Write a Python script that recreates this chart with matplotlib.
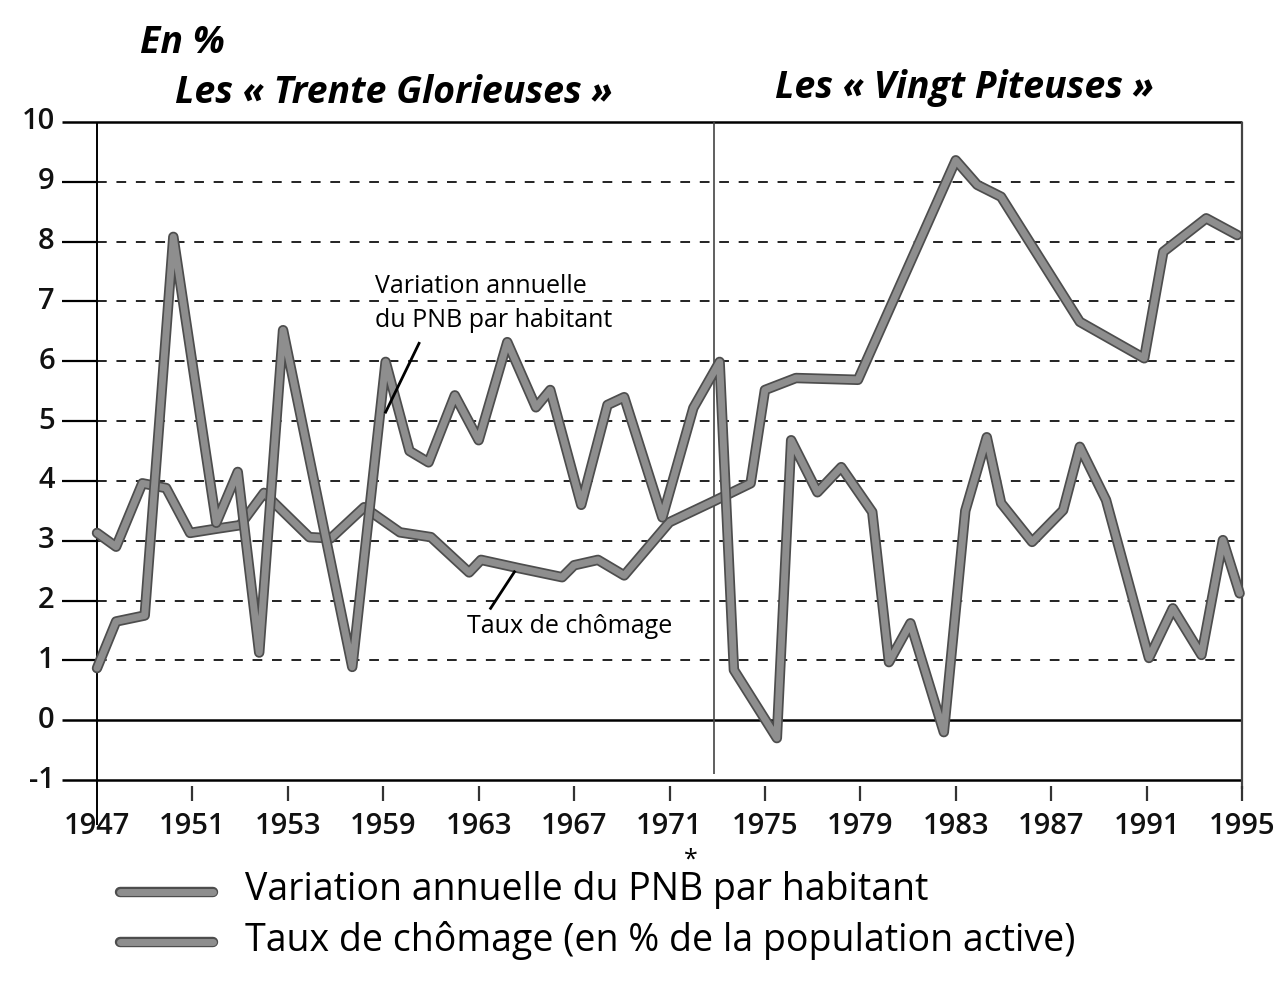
import matplotlib
matplotlib.use('Agg')
from matplotlib import pyplot as plt
import matplotlib.patheffects as pe
from matplotlib.lines import Line2D

# Variation annuelle du PNB par habitant (sommets)
pnb_years = [1947, 1947.8, 1949.0, 1950.2, 1952.0, 1952.9, 1953.8, 1954.8, 1957.7, 1959.1,
             1960.1, 1960.9, 1962.0, 1963.0, 1964.2, 1965.4, 1966.0, 1967.3, 1968.4, 1969.1,
             1970.7, 1972.0, 1973.1, 1973.7, 1975.5, 1976.1, 1977.2, 1978.2, 1979.5, 1980.2,
             1981.1, 1982.5, 1983.4, 1984.3, 1984.9, 1986.2, 1987.5, 1988.2, 1989.3, 1991.1,
             1992.1, 1993.3, 1994.2, 1994.9]
pnb_values = [0.87, 1.65, 1.75, 8.08, 3.3, 4.15, 1.13, 6.52, 0.89, 5.99,
              4.5, 4.31, 5.43, 4.68, 6.32, 5.23, 5.52, 3.6, 5.27, 5.4,
              3.39, 5.22, 5.99, 0.84, -0.3, 4.68, 3.81, 4.23, 3.48, 0.97,
              1.62, -0.2, 3.5, 4.73, 3.63, 2.98, 3.51, 4.57, 3.68, 1.04,
              1.87, 1.09, 3.01, 2.12]

# Taux de chômage
chom_years = [1947, 1947.8, 1948.9, 1949.9, 1950.9, 1952.0, 1953.0, 1954.0, 1955.9, 1956.8,
              1958.2, 1959.7, 1961.0, 1962.6, 1963.1, 1964.7, 1966.5, 1967.0, 1968.0, 1969.1,
              1971.0, 1972.8, 1974.4, 1975.0, 1976.3, 1978.9, 1983.0, 1983.9, 1984.9, 1988.2,
              1990.9, 1991.7, 1993.5, 1994.8]
chom_values = [3.13, 2.9, 3.96, 3.88, 3.13, 3.2, 3.26, 3.8, 3.06, 3.04,
               3.56, 3.14, 3.06, 2.47, 2.68, 2.54, 2.39, 2.59, 2.68, 2.42,
               3.31, 3.65, 3.96, 5.52, 5.72, 5.69, 9.36, 8.95, 8.75, 6.66,
               6.05, 7.83, 8.39, 8.11]

tick_years = [1947, 1951, 1955, 1959, 1963, 1967, 1971, 1975, 1979, 1983, 1987, 1991, 1995]
tick_labels = ['1947', '1951', '1953', '1959', '1963', '1967', '1971',
               '1975', '1979', '1983', '1987', '1991', '1995']
y_levels = list(range(-1, 11))

font = 'Open Sans'
line_color = '#8e8e8e'
edge_color = '#4d4d4d'
effects = [pe.Stroke(linewidth=7.5, foreground=edge_color), pe.Normal()]

fig = plt.figure(figsize=(12.77, 9.81), dpi=100)
W, H = 1277, 981
left_px, right_px, top_px, bottom_px = 62, 1244, 122, 780
ax = fig.add_axes([left_px / W, 1 - bottom_px / H, (right_px - left_px) / W, (bottom_px - top_px) / H])
px_year = 23.85
x0 = 1947 - (97 - left_px) / px_year
x1 = 1995 + (right_px - 1242) / px_year
ax.set_xlim(x0, x1)
ax.set_ylim(-1, 10)
ax.axis('off')

# grille et axes dessinés à la main
for y in range(1, 10):
    ax.hlines(y, x0, 1947, color='black', lw=1.6)
    ax.hlines(y, 1947, 1995, color='#222222', lw=1.4, linestyles=(0, (5, 5)))
for y in (10, 0, -1):
    ax.hlines(y, x0, 1995, color='black', lw=1.8, clip_on=False)
ax.vlines(1947, -1.75, 10, color='black', lw=1.4, clip_on=False)
ax.vlines(1995, -1.15, 10, color='#444444', lw=1.6, clip_on=False)
ax.vlines(1972.85, -0.9, 10, color='#444444', lw=1.2)
for yr in tick_years[1:]:
    ax.vlines(yr, -1.1, -1.35, color='#333333', lw=1.6, clip_on=False)

for y in y_levels:
    ax.text(x0 - 0.3, y, f'{y}', ha='right', va='center', fontsize=21,
            family=font, fontweight='semibold', color='#111111')
for yr, lab in zip(tick_years, tick_labels):
    ax.text(yr, -1.78, lab, ha='center', va='center', fontsize=21,
            family=font, fontweight='semibold', color='#111111')

ax.plot(chom_years, chom_values, color=line_color, lw=5, solid_joinstyle='round',
        solid_capstyle='round', path_effects=effects, clip_on=False, zorder=3)
ax.plot(pnb_years, pnb_values, color=line_color, lw=5, solid_joinstyle='round',
        solid_capstyle='round', path_effects=effects, clip_on=False, zorder=3)

# étiquettes dans le graphique
ax.text(1958.65, 6.97, 'Variation annuelle\ndu PNB par habitant', fontsize=18,
        family='Open Sans', ha='left', va='center', linespacing=1.45, zorder=4)
ax.plot([1960.5, 1959.1], [6.3, 5.15], color='black', lw=2, zorder=4)
ax.text(1962.5, 1.57, 'Taux de chômage', fontsize=18, family='Open Sans',
        ha='left', va='center', zorder=4)
ax.plot([1964.5, 1963.5], [2.48, 1.87], color='black', lw=2, zorder=4)

# titres
fig.text(140 / W, 1 - 43 / H, 'En %', fontsize=27, family=font, style='italic',
         fontweight='bold', va='center', ha='left')
fig.text(175 / W, 1 - 93 / H, 'Les « Trente Glorieuses »', fontsize=27, family=font,
         style='italic', fontweight='bold', va='center', ha='left')
fig.text(775 / W, 1 - 88 / H, 'Les « Vingt Piteuses »', fontsize=27, family=font,
         style='italic', fontweight='bold', va='center', ha='left')

# légende
leg_size = 27
for ypx in (892, 942):
    fig.add_artist(Line2D([120 / W, 213 / W], [1 - ypx / H, 1 - ypx / H], color=line_color,
                          lw=5, solid_capstyle='round', path_effects=effects))
fig.text(245 / W, 1 - 890 / H, 'Variation annuelle du PNB par habitant', fontsize=leg_size,
         family=font, va='center', ha='left')
fig.text(245 / W, 1 - 940 / H, 'Taux de chômage (en % de la population active)', fontsize=leg_size,
         family=font, va='center', ha='left')

# astérisque au-dessus du B
renderer = fig.canvas.get_renderer()
probe = fig.text(245 / W, 1 - 890 / H, 'Variation annuelle du PN', fontsize=leg_size, family=font,
                 va='center', ha='left')
probe_b = fig.text(245 / W, 1 - 890 / H, 'Variation annuelle du PNB', fontsize=leg_size, family=font,
                   va='center', ha='left')
xa = probe.get_window_extent(renderer).x1
xb = probe_b.get_window_extent(renderer).x1
probe.remove()
probe_b.remove()
fig.text((xa + xb) / 2 / W, 1 - 860 / H, '*', fontsize=18, family=font, ha='center', va='center')

fig.savefig('out.png', dpi=100, facecolor='white')
